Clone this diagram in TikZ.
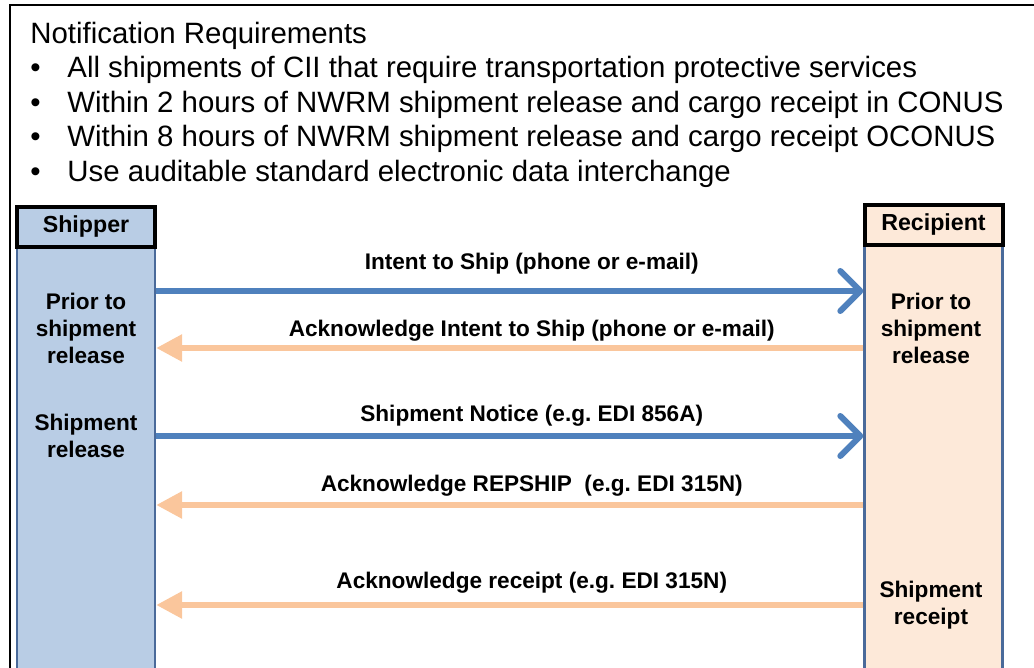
\documentclass[tikz,border=0pt]{standalone}
\usepackage{fontspec}
\setmainfont{Liberation Sans}
\usetikzlibrary{arrows.meta,positioning}
\definecolor{shipfill}{HTML}{B9CDE5}
\definecolor{recvfill}{HTML}{FDE9D9}
\definecolor{laneedge}{HTML}{4A6A9A}
\definecolor{sendblue}{HTML}{4F81BD}
\definecolor{ackpeach}{HTML}{FAC69C}
\frenchspacing

\tikzset{
  lane/.style={draw=laneedge, line width=1.2pt, minimum width=69pt, minimum height=240pt, anchor=north, inner sep=0pt},
  lanehead/.style={draw=black, line width=2pt, minimum width=69pt, minimum height=20pt, anchor=north, inner sep=0pt, font=\bfseries\fontsize{11.6}{13}\selectfont},
  lanetext/.style={font=\bfseries\fontsize{11.3}{13.5}\selectfont, align=center},
  msglabel/.style={font=\bfseries\fontsize{11.3}{13}\selectfont, inner sep=0pt, xshift=11pt},
  sendarrow/.style={draw=sendblue, line width=3pt, -{Straight Barb[length=10pt,width=20pt,line width=3pt,round]}},
  ackarrow/.style={draw=ackpeach, line width=3pt, -{Triangle[length=13pt,width=13pt]}},
  bullettext/.style={font=\fontsize{14.7}{17}\selectfont, anchor=base west, inner sep=0pt}
}

\begin{document}
\begin{tikzpicture}[x=0.5pt,y=-0.5pt]
  \useasboundingbox (0,0) rectangle (1034,668);
  \clip (0,0) rectangle (1034,668);

  % outer frame
  \draw[line width=1pt] (10,700) -- (10,5) -- (1040,5);

  % requirements
  \node[bullettext] (title) at (30,44) {Notification Requirements};
  \foreach \y/\txt [count=\i] in {
      78/All shipments of CII that require transportation protective services,
      113/Within 2 hours of NWRM shipment release and cargo receipt in CONUS,
      147/Within 8 hours of NWRM shipment release and cargo receipt OCONUS,
      182/Use auditable standard electronic data interchange} {
    \node[bullettext] (dot\i) at (30,\y) {•};
    \node[bullettext] (req\i) at (67,\y) {\txt};
  }

  % swim lanes
  \node[lane, fill=shipfill] (shipper) at (86,205) {};
  \node[lanehead, fill=shipfill] (shiphead) at (86,205) {Shipper};
  \node[lane, fill=recvfill] (recipient) at (933.5,203) {};
  \node[lanehead, fill=recvfill] (recvhead) at (933.5,203) {Recipient};

  \node[lanetext] (s1) at (86,328) {Prior to\\shipment\\release};
  \node[lanetext] (s2) at (86,436) {Shipment\\release};
  \node[lanetext] (r1) at (931,328) {Prior to\\shipment\\release};
  \node[lanetext] (r2) at (931,605) {Shipment\\receipt};

  % message rows
  \coordinate (m1) at (0,291);
  \coordinate (m2) at (0,348);
  \coordinate (m3) at (0,436);
  \coordinate (m4) at (0,505);
  \coordinate (m5) at (0,605);

  \draw[sendarrow] (shipper.east |- m1) -- (recipient.west |- m1)
    node[msglabel, midway, above=7pt] {Intent to Ship (phone or e-mail)};
  \draw[ackarrow] (recipient.west |- m2) -- (shipper.east |- m2)
    node[msglabel, midway, above=2pt] {Acknowledge Intent to Ship (phone or e-mail)};
  \draw[sendarrow] (shipper.east |- m3) -- (recipient.west |- m3)
    node[msglabel, midway, above=3.5pt] {Shipment Notice (e.g. EDI 856A)};
  \draw[ackarrow] (recipient.west |- m4) -- (shipper.east |- m4)
    node[msglabel, midway, above=3pt] {Acknowledge REPSHIP\ \ (e.g. EDI 315N)};
  \draw[ackarrow] (recipient.west |- m5) -- (shipper.east |- m5)
    node[msglabel, midway, above=4.5pt] {Acknowledge receipt (e.g. EDI 315N)};
\end{tikzpicture}
\end{document}
